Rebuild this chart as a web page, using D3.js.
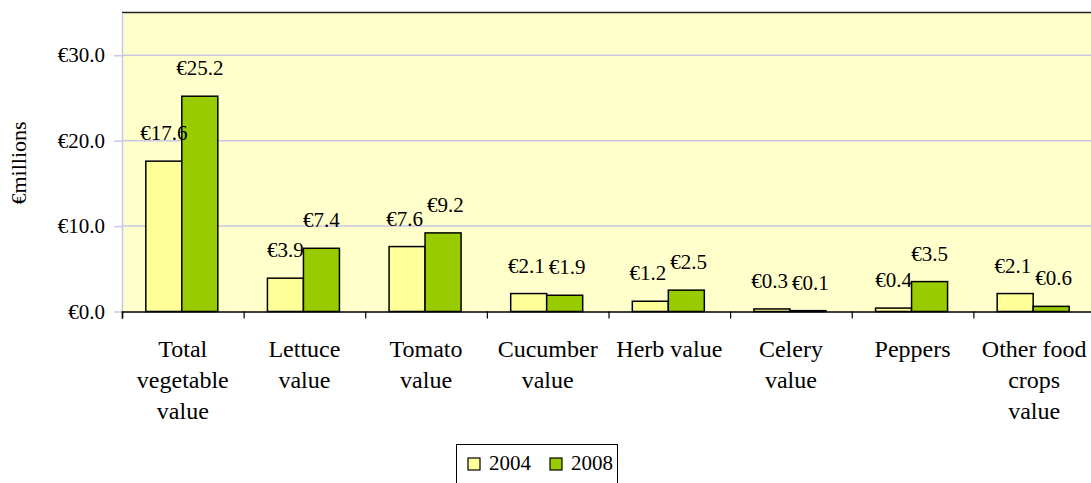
<!DOCTYPE html>
<html>
<head>
<meta charset="utf-8">
<script src="https://cdn.jsdelivr.net/npm/d3@7"></script>
</head>
<body style="margin:0; background:#ffffff">
<svg id="chart" width="1091" height="483" font-family="Liberation Serif"></svg>
<script>
// Chart data
const categories = [
  "Total\nvegetable\nvalue", "Lettuce\nvalue", "Tomato\nvalue", "Cucumber\nvalue",
  "Herb value", "Celery\nvalue", "Peppers", "Other food\ncrops\nvalue"
];
const years = ["2004", "2008"];
const values2004 = [17.6, 3.9, 7.6, 2.1, 1.2, 0.3, 0.4, 2.1];
const values2008 = [25.2, 7.4, 9.2, 1.9, 2.5, 0.1, 3.5, 0.6];
const yTicks = [0, 10, 20, 30];
const yTitle = "€millions";

const colours = {"2004": "#ffff99", "2008": "#99cc00"};
const serif = "Liberation Serif";
const euro = d => "€" + d.toFixed(1);

// Layout
const plot = {left: 122, right: 1095, top: 12.5, bottom: 311.5};
const svg = d3.select("#chart");

const x = d3.scaleBand()
  .domain(d3.range(categories.length))
  .range([plot.left, plot.right]);
const groupWidth = 72;
const xSub = d3.scaleBand()
  .domain(years)
  .range([0, groupWidth]);
const groupOffset = (x.bandwidth() - groupWidth) / 2 - 1;
const y = d3.scaleLinear().domain([0, 35]).range([plot.bottom, plot.top]);

// Plot background
svg.append("rect")
  .attr("x", plot.left).attr("y", plot.top)
  .attr("width", plot.right - plot.left).attr("height", plot.bottom - plot.top)
  .attr("fill", "#ffffcc");

// Gridlines
svg.append("g")
  .selectAll("line")
  .data(yTicks.filter(d => d > 0))
  .join("line")
  .attr("x1", plot.left).attr("x2", plot.right)
  .attr("y1", d => y(d)).attr("y2", d => y(d))
  .attr("stroke", "#c8c8e6").attr("stroke-width", 1.5);

// Top border
svg.append("line")
  .attr("x1", plot.left).attr("x2", plot.right)
  .attr("y1", plot.top).attr("y2", plot.top)
  .attr("stroke", "#222222").attr("stroke-width", 1.5);

// Y axis
let yAxis = svg.append("g")
  .attr("transform", `translate(${plot.left},0)`)
  .call(d3.axisLeft(y).tickValues(yTicks).tickSize(8).tickPadding(9).tickSizeOuter(0).tickFormat(euro));
yAxis.select(".domain").attr("stroke", "#c8c8e6").attr("stroke-width", 1.5);
yAxis.selectAll(".tick line").attr("stroke", "#c8c8e6").attr("stroke-width", 1.5);
yAxis.selectAll(".tick text")
  .attr("font-family", serif).attr("font-size", 21).attr("fill", "#000");

// Bars
let groups = svg.append("g")
  .selectAll("g")
  .data(categories.map((c, i) => ({i: i, vals: [values2004[i], values2008[i]]})))
  .join("g")
  .attr("transform", d => `translate(${x(d.i) + groupOffset},0)`);

groups.selectAll("rect")
  .data(d => years.map((yr, k) => ({year: yr, value: d.vals[k]})))
  .join("rect")
  .attr("x", d => xSub(d.year))
  .attr("y", d => y(d.value))
  .attr("width", xSub.bandwidth())
  .attr("height", d => y(0) - y(d.value))
  .attr("fill", d => colours[d.year])
  .attr("stroke", "#000").attr("stroke-width", 1.5);

// Data labels, pushed apart when the pair would collide
groups.each(function(d) {
  let g = d3.select(this);
  let labels = years.map((yr, k) => g.append("text")
    .attr("x", xSub(yr) + xSub.bandwidth() / 2)
    .attr("y", y(d.vals[k]) - 21)
    .attr("text-anchor", "middle")
    .attr("font-family", serif).attr("font-size", 21)
    .text(euro(d.vals[k])));
  let a = labels[0].node().getBBox();
  let b = labels[1].node().getBBox();
  let overlapX = a.x + a.width + 4 - b.x;
  let overlapY = Math.min(a.y + a.height, b.y + b.height) - Math.max(a.y, b.y);
  if (overlapX > 0 && overlapY > 0) {
    labels[0].attr("x", +labels[0].attr("x") - overlapX / 2);
    labels[1].attr("x", +labels[1].attr("x") + overlapX / 2);
  }
});

// X axis
let xAxis = svg.append("g")
  .attr("transform", `translate(0,${plot.bottom})`)
  .call(d3.axisBottom(d3.scaleLinear().domain([0, categories.length]).range([plot.left, plot.right]))
    .tickValues(d3.range(categories.length + 1)).tickSize(7).tickFormat(""));
xAxis.select(".domain").attr("stroke", "#000").attr("stroke-width", 1.5);
xAxis.selectAll(".tick line").attr("stroke", "#000").attr("stroke-width", 1.2);

// Category labels
svg.append("g")
  .selectAll("text")
  .data(categories)
  .join("text")
  .attr("x", (d, i) => x(i) + x.bandwidth() / 2)
  .attr("y", 357)
  .attr("text-anchor", "middle")
  .attr("font-family", serif)
  .attr("font-size", 24)
  .selectAll("tspan")
  .data(d => d.split("\n"))
  .join("tspan")
  .attr("x", function() { return this.parentNode.getAttribute("x"); })
  .attr("dy", (d, k) => k === 0 ? 0 : 31)
  .text(d => d);

// Y axis title
svg.append("text")
  .attr("transform", "translate(26,163) rotate(-90)")
  .attr("text-anchor", "middle")
  .attr("font-family", serif)
  .attr("font-size", 22)
  .text(yTitle);

// Legend
let legend = svg.append("g");
legend.append("rect")
  .attr("x", 456.5).attr("y", 444.5).attr("width", 161).attr("height", 60)
  .attr("fill", "#fff").attr("stroke", "#000").attr("stroke-width", 1);
let items = legend.selectAll("g")
  .data(years)
  .join("g")
  .attr("transform", (d, i) => `translate(${468 + i * 82},0)`);
items.append("rect")
  .attr("x", 0).attr("y", 458).attr("width", 12).attr("height", 12)
  .attr("fill", d => colours[d]).attr("stroke", "#000").attr("stroke-width", 1.2);
items.append("text")
  .attr("x", 21).attr("y", 470)
  .attr("font-family", serif)
  .attr("font-size", 21)
  .text(d => d);
</script>
</body>
</html>
